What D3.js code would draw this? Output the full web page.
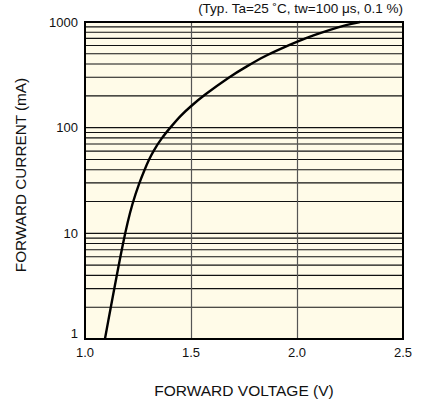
<!DOCTYPE html>
<html><head><meta charset="utf-8">
<script src="https://cdn.jsdelivr.net/npm/d3@7"></script>
<style>body{margin:0;background:#fff}svg{display:block}text{font-family:"Liberation Sans",Arial,sans-serif;fill:#111}</style>
</head><body>
<svg id="c" width="425" height="404"></svg>
<script>
const voltage = [1.094, 1.186, 1.226, 1.256, 1.281, 1.302, 1.322, 1.362, 1.402, 1.450, 1.500, 1.557, 1.684, 1.763, 1.845, 1.922, 2.003, 2.077, 2.156, 2.234, 2.297];
const current = [1, 10, 20, 30, 40, 50, 60, 80, 100, 130, 160, 200, 306, 380, 473, 557, 655, 747, 844, 941, 1000];
const xTicks = [1.0, 1.5, 2.0, 2.5];
const xTickLabels = ["1.0", "1.5", "2.0", "2.5"];
const yTicks = [1, 10, 100, 1000];
const yTickLabels = ["1", "10", "100", "1000"];
const titleText = "(Typ. Ta=25 ˚C, tw=100 μs, 0.1 %)";
const xTitle = "FORWARD VOLTAGE (V)";
const yTitle = "FORWARD CURRENT (mA)";

const svg = d3.select("#c");
const L = 85, R = 403, T = 22, B = 339;
const x = d3.scaleLinear().domain([1.0, 2.5]).range([L, R]);
const y = d3.scaleLog().domain([1, 1000]).range([B, T]);

svg.append("rect").attr("x", L).attr("y", T).attr("width", R - L).attr("height", B - T).attr("fill", "#fffbe8");

// horizontal log grid
const minor = [];
for (let d = 1; d < 1000; d *= 10) for (let k = 1; k <= 9; k++) minor.push(d * k);
svg.append("g").selectAll("line").data(minor.filter(v => v > 1)).join("line")
  .attr("x1", L).attr("x2", R)
  .attr("y1", d => y(d)).attr("y2", d => y(d))
  .attr("stroke", "#111").attr("stroke-width", 1.1);
// vertical grid
svg.append("g").selectAll("line").data(xTicks.slice(1, -1)).join("line")
  .attr("y1", T).attr("y2", B)
  .attr("x1", d => Math.round(x(d)) + 0.5).attr("x2", d => Math.round(x(d)) + 0.5)
  .attr("stroke", "#555").attr("stroke-width", 1.2);

// curve
const pts = voltage.map((v, i) => [v, current[i]]);
svg.append("path").datum(pts)
  .attr("d", d3.line().x(d => x(d[0])).y(d => y(d[1])).curve(d3.curveBasis))
  .attr("fill", "none").attr("stroke", "#000").attr("stroke-width", 2.4);

// frame
svg.append("rect").attr("x", L).attr("y", T).attr("width", R - L).attr("height", B - T)
  .attr("fill", "none").attr("stroke", "#000").attr("stroke-width", 2);

// axes labels
svg.append("g").selectAll("text").data(xTicks).join("text")
  .attr("x", d => x(d)).attr("y", 357).attr("text-anchor", "middle")
  .attr("font-size", 13).text((d, i) => xTickLabels[i]);
svg.append("g").selectAll("text").data(yTicks).join("text")
  .attr("x", 78).attr("y", d => d === 1 ? 338 : y(d) + 4.7).attr("text-anchor", "end")
  .attr("font-size", 13).text((d, i) => yTickLabels[i]);

svg.append("text").attr("x", 403).attr("y", 13).attr("text-anchor", "end").attr("font-size", 13.5).text(titleText);
svg.append("text").attr("x", 244).attr("y", 396).attr("text-anchor", "middle").attr("font-size", 15.5).text(xTitle);
svg.append("text").attr("transform", `translate(25.5,175) rotate(-90)`).attr("text-anchor", "middle").attr("font-size", 15.3).text(yTitle);
</script>
</body></html>
